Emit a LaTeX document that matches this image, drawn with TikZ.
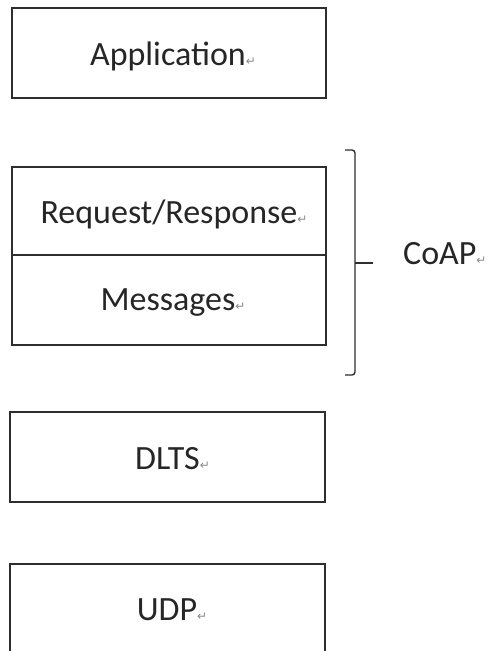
\documentclass[tikz,border=0pt]{standalone}
\usepackage{fontspec}
\setmainfont{Carlito}
\newfontfamily\symfont{DejaVu Sans}
\definecolor{edge}{HTML}{2E2E2E}
\definecolor{pmarkgray}{HTML}{8A8A8A}
% Word-style paragraph mark after each label
\newcommand{\pmark}{{\symfont\fontsize{12}{12}\selectfont\textcolor{pmarkgray}{↵}}}
\tikzset{
  layerbox/.style={draw=edge, line width=1.4pt, inner sep=0pt},
  layertext/.style={anchor=base, inner sep=0pt, text=black!85, font=\fontsize{34}{40}\selectfont},
}
\begin{document}
\begin{tikzpicture}[x=1pt, y=-1pt]
\useasboundingbox (0,0) rectangle (491,651);
\clip (0,0) rectangle (491,651);

% protocol layers
\node[layerbox, minimum width=314, minimum height=90] (app) at (169,53) {};
\node[layerbox, minimum width=314, minimum height=88] (req) at (169,211) {};
\node[layerbox, minimum width=314, minimum height=90] (msg) at (169,300) {};
\node[layerbox, minimum width=315, minimum height=90] (dtls) at (167.5,457) {};
\node[layerbox, minimum width=315, minimum height=110] (udp) at (167.5,619) {};

% labels
\node[layertext] (tapp) at (173,65) {Application\pmark};
\node[layertext] (treq) at (174,223) {Request/Response\pmark};
\node[layertext] (tmsg) at (173,310) {Messages\pmark};
\node[layertext] (tdtls) at (172.5,469) {DLTS\pmark};
\node[layertext] (tudp) at (172,620) {UDP\pmark};

% brace grouping the two CoAP layers
\coordinate (btop) at (345,150);
\coordinate (bbot) at (345,375);
\coordinate (btip) at (373,263);
\draw[edge, line width=1.4pt, rounded corners=3pt]
  (btop) -- (355,150) -- (355,375) -- (bbot);
\draw[edge, line width=1.4pt] (355,263) -- (btip);
\node[layertext, anchor=base west] (coap) at (403,264) {CoAP\pmark};
\end{tikzpicture}
\end{document}
